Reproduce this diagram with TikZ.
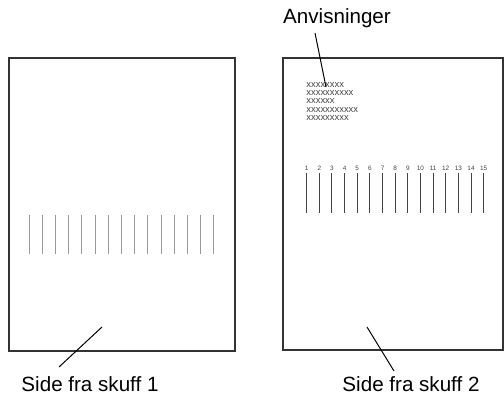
\documentclass[tikz,border=0pt]{standalone}
\usepackage{fontspec}
\setmainfont{Liberation Sans}
\usepackage{tikz}
\usepackage{xcolor}

\definecolor{edgegray}{HTML}{333333}
\definecolor{tickgray}{HTML}{999999}
\definecolor{tickdark}{HTML}{444444}

\tikzset{
  sheet/.style={draw=edgegray, line width=0.8pt},
  leader/.style={draw=black, line width=0.5pt},
  caption/.style={inner sep=0pt, font=\fontsize{10.3}{12}\selectfont},
  tickline/.style={line width=0.5pt},
  ticknum/.style={inner sep=0pt, anchor=south, font=\fontsize{3.2}{3.4}\selectfont, text=tickdark},
  fillertext/.style={inner sep=0pt, anchor=north west, align=left, text=tickdark,
    font=\fontsize{4.7}{4.15}\selectfont}
}

\begin{document}
\begin{tikzpicture}[x=0.5pt, y=-0.5pt]
\useasboundingbox (0,0) rectangle (504,402);

% side fra skuff 1
\draw[sheet] (9,58) rectangle (235,351);
\foreach \i in {0,...,14} {
  \pgfmathsetmacro{\xx}{29+13.2*\i}
  \draw[tickline, tickgray] (\xx,215) -- (\xx,254);
}
\node[caption] (skuff1) at (90,384) {Side fra skuff 1};
\coordinate (skuff1top) at (59,367);
\coordinate (skuff1pt) at (102,327);
\draw[leader] (skuff1pt) -- (skuff1top);

% side fra skuff 2
\draw[sheet] (283,58) rectangle (503,350);
\node[fillertext] (anv) at (306,82) {xxxxxxxx\\xxxxxxxxxx\\xxxxxx\\xxxxxxxxxxx\\xxxxxxxxx};
\foreach \i in {1,...,15} {
  \pgfmathsetmacro{\xx}{306.7+12.64*(\i-1)}
  \draw[tickline, tickdark] (\xx,173) -- (\xx,213);
  \node[ticknum] (num\i) at (\xx,171) {\i};
}
\node[caption] (anvlabel) at (337,18) {Anvisninger};
\coordinate (anvtop) at (315,33);
\coordinate (anvpt) at (326,87);
\draw[leader] (anvtop) -- (anvpt);

\node[caption] (skuff2) at (411,384) {Side fra skuff 2};
\coordinate (skuff2top) at (394,371);
\coordinate (skuff2pt) at (367,327);
\draw[leader] (skuff2pt) -- (skuff2top);
\end{tikzpicture}
\end{document}
